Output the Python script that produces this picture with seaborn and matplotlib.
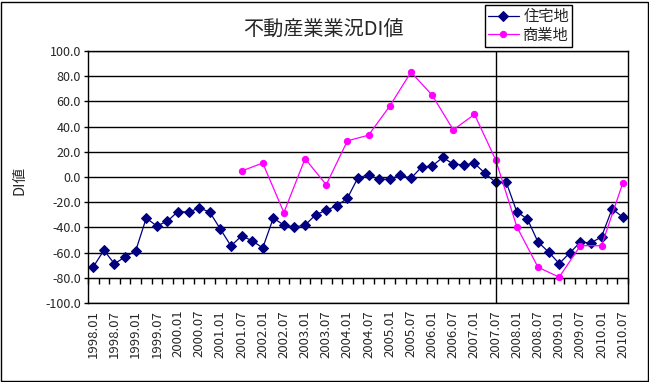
import matplotlib
matplotlib.use('Agg')
import matplotlib.pyplot as plt
import seaborn as sns
import numpy as np
import pandas as pd
from matplotlib.patches import Rectangle
from matplotlib.ticker import FormatStrFormatter

# half-year tick labels (data are quarterly, labels every 2nd quarter)
tick_labels = ['1998.01', '1998.07', '1999.01', '1999.07', '2000.01', '2000.07',
               '2001.01', '2001.07', '2002.01', '2002.07', '2003.01', '2003.07',
               '2004.01', '2004.07', '2005.01', '2005.07', '2006.01', '2006.07',
               '2007.01', '2007.07', '2008.01', '2008.07', '2009.01', '2009.07',
               '2010.01', '2010.07']

# 住宅地: quarterly from 1998.01 to 2010.07
residential = [-71.3, -58.2, -68.9, -63.4, -58.7, -32.6, -38.9, -35.0, -27.4, -27.9,
               -24.5, -27.9, -41.3, -54.7, -46.8, -50.5, -56.3, -32.6, -38.2, -39.7,
               -38.2, -30.0, -26.3, -22.9, -16.8, -0.5, 1.6, -1.8, -1.8, 1.6,
               -1.1, 7.9, 8.7, 15.5, 10.3, 9.5, 10.8, 2.9, -4.2, -4.2,
               -27.6, -33.4, -51.6, -59.5, -68.7, -60.3, -51.6, -52.4, -47.4, -25.3,
               -31.8]

# 商業地: half-yearly from 2001.07
commercial_periods = tick_labels[7:]
commercial = [4.7, 11.1, -28.2, 14.5, -6.1, 28.7, 33.2, 56.3, 83.2, 65.0,
              37.4, 49.7, 13.7, -39.5, -71.6, -79.5, -54.5, -54.5, -5.0]

marker_period = '2007.07'

res_df = pd.DataFrame({'pos': np.arange(len(residential)), 'DI': residential})
com_df = pd.DataFrame({'pos': [tick_labels.index(p) * 2 for p in commercial_periods],
                       'DI': commercial})

sns.set_style('white')
plt.rcParams['font.family'] = ['Noto Sans CJK JP', 'DejaVu Sans']

fig = plt.figure(figsize=(6.49, 3.82), dpi=100)
ax = fig.add_axes([88 / 649, 79 / 382, 540 / 649, 252 / 382])

sns.lineplot(data=res_df, x='pos', y='DI', ax=ax, color='#000080', lw=0.9,
             marker='D', markersize=5.5, markeredgecolor='#000080', label='住宅地')
sns.lineplot(data=com_df, x='pos', y='DI', ax=ax, color='#FF00FF', lw=0.9,
             marker='o', markersize=4.5, markeredgecolor='#FF00FF', label='商業地')

ax.set_xlim(-0.5, len(residential) - 0.5)
ax.set_ylim(-100, 100)
ax.set_yticks(np.arange(-100, 101, 20))
ax.yaxis.set_major_formatter(FormatStrFormatter('%.1f'))
ax.set_xticks(np.arange(0, len(residential), 2))
ax.set_xticklabels(tick_labels, rotation=90)
ax.set_xlabel('')
ax.set_ylabel('')
ax.tick_params(axis='x', length=0, pad=5, labelsize=9.5)
ax.tick_params(axis='y', left=True, length=3, width=1, color='black', pad=2, labelsize=9)

ax.yaxis.grid(True, color='black', lw=1)
ax.set_axisbelow(True)
for s in ax.spines.values():
    s.set_color('black')
    s.set_linewidth(1)

# vertical marker line
ax.axvline(tick_labels.index(marker_period) * 2, color='black', lw=1)

# category tick marks on the -80 line
sec = ax.secondary_xaxis(0.1)
sec.set_xticks(np.arange(-0.5, len(residential), 1))
sec.set_xticklabels([])
sec.tick_params(direction='out', length=4, width=1, color='black')
sec.spines['bottom'].set_color('black')

handles, labels = ax.get_legend_handles_labels()
ax.get_legend().remove()
leg = fig.legend(handles, labels, loc='upper left', bbox_to_anchor=(485 / 649, 1 - 5 / 382),
                 frameon=True, fancybox=False, edgecolor='black', framealpha=1,
                 borderaxespad=0, fontsize=11, handlelength=2.0, handletextpad=0.3,
                 borderpad=0.2, labelspacing=0.1)
leg.get_frame().set_linewidth(1)

fig.text(323 / 649, 1 - 29 / 382, '不動産業業況DI値', ha='center', va='center', fontsize=14.5)
fig.text(19 / 649, 1 - 180 / 382, 'DI値', rotation=90, ha='center', va='center', fontsize=10.5)

fig.add_artist(Rectangle((0.5 / 649, 1.5 / 382), 647 / 649, 379 / 382, transform=fig.transFigure,
                         fill=False, edgecolor='black', lw=1))

fig.savefig('out.png', dpi=100)
plt.close()
